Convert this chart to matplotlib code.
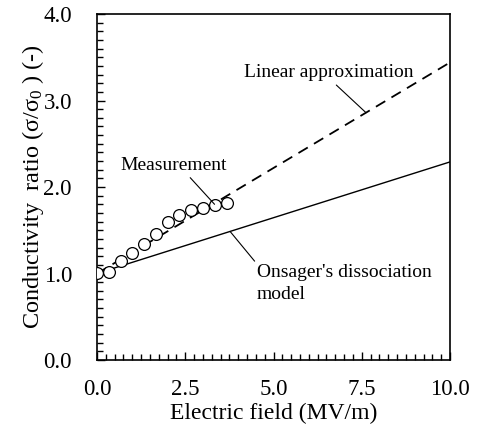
import matplotlib
matplotlib.use("Agg")
import matplotlib.pyplot as plt
from matplotlib.ticker import MultipleLocator, FormatStrFormatter

plt.rcParams['font.family'] = ['Liberation Serif', 'DejaVu Serif']
plt.rcParams['mathtext.fontset'] = 'custom'
plt.rcParams['mathtext.rm'] = 'Liberation Serif'
plt.rcParams['mathtext.it'] = 'Liberation Serif'

meas_x = [0.0, 0.33, 0.67, 1.0, 1.33, 1.67, 2.0, 2.33, 2.67, 3.0, 3.33, 3.67]
meas_y = [1.01, 1.02, 1.14, 1.24, 1.34, 1.46, 1.59, 1.68, 1.73, 1.76, 1.79, 1.81]
lin_x = [0.0, 10.0]
lin_y = [1.0, 3.44]
ons_x = [0.0, 10.0]
ons_y = [1.0, 2.29]

fig = plt.figure(figsize=(4.8, 4.33), dpi=100)
ax = fig.add_axes([97/480, 1-360/433, (450-97)/480, (360-14)/433])

ax.plot(lin_x, lin_y, color='black', lw=1.3, ls=(0, (6, 4)))
ax.plot(ons_x, ons_y, color='black', lw=1.0)
ax.plot(meas_x, meas_y, ls='none', marker='o', ms=8.5, mfc='white', mec='black', mew=0.9, zorder=3)

ax.set_xlim(0, 10)
ax.set_ylim(0, 4)
ax.xaxis.set_major_locator(MultipleLocator(2.5))
ax.xaxis.set_minor_locator(MultipleLocator(0.25))
ax.yaxis.set_major_locator(MultipleLocator(1.0))
ax.yaxis.set_minor_locator(MultipleLocator(0.1))
ax.xaxis.set_major_formatter(FormatStrFormatter('%.1f'))
ax.yaxis.set_major_formatter(FormatStrFormatter('%.1f'))
ax.tick_params(which='both', direction='in', top=False, right=False, labelsize=16.5, width=1.0)
ax.tick_params(axis='y', which='major', length=6, pad=18)
ax.tick_params(axis='x', which='major', length=6, pad=14)
ax.tick_params(which='minor', length=4)
for s in ax.spines.values():
    s.set_linewidth(1.2)

ax.set_xlabel('Electric field (MV/m)', fontsize=17, labelpad=2)
ax.set_ylabel(r'Conductivity  ratio (σ/$\mathregular{\sigma_0}$ ) (-)', fontsize=17.5, labelpad=-2)

ax.annotate('Linear approximation', xy=(7.62, 1 + 0.244*7.62), xytext=(6.57, 3.32),
            fontsize=14, ha='center', va='center',
            arrowprops=dict(arrowstyle='-', color='black', lw=0.8, shrinkA=1, shrinkB=0,
                            relpos=(0.52, 0.0)))
ax.annotate('Measurement', xy=(3.33, 1.80), xytext=(2.18, 2.25),
            fontsize=14, ha='center', va='center',
            arrowprops=dict(arrowstyle='-', color='black', lw=0.8, shrinkA=1, shrinkB=0,
                            relpos=(0.62, 0.0)))
ax.annotate("Onsager's dissociation\nmodel", xy=(3.77, 1 + 0.129*3.77), xytext=(4.53, 0.884),
            fontsize=14, ha='left', va='center', linespacing=1.4,
            arrowprops=dict(arrowstyle='-', color='black', lw=0.8, shrinkA=0, shrinkB=0,
                            relpos=(0.0, 1.0)))

fig.savefig('out.png', dpi=100)
